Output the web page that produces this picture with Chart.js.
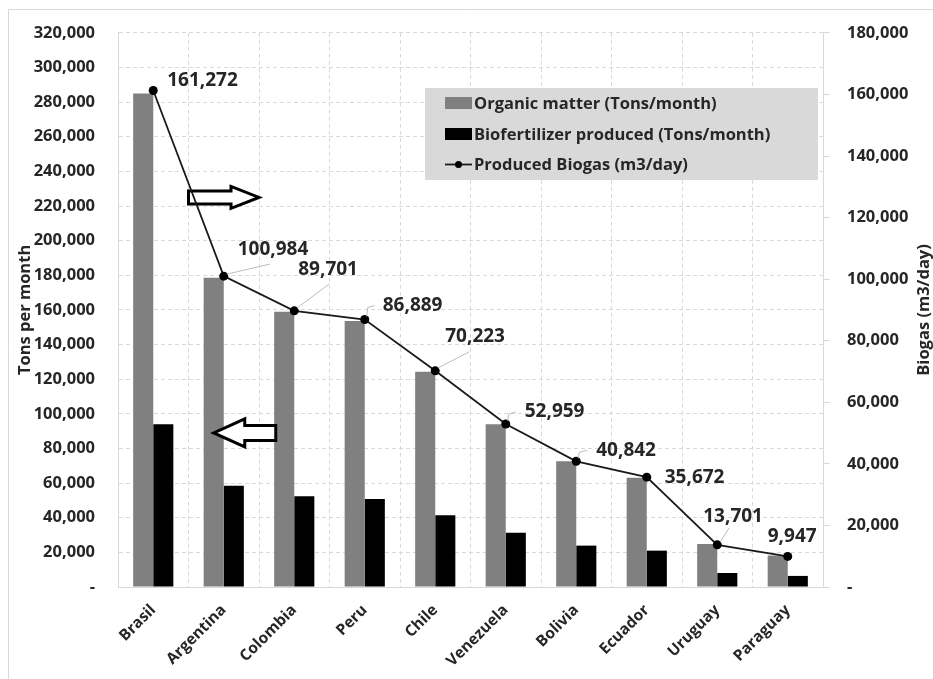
<!DOCTYPE html>
<html>
<head>
<meta charset="utf-8">
<script src="https://cdn.jsdelivr.net/npm/chart.js@4.4.1/dist/chart.umd.min.js"></script>
<style>
html,body{margin:0;padding:0;background:#fff;}
canvas{display:block;}
</style>
</head>
<body>
<canvas id="c" width="933" height="679"></canvas>
<script>
// ---- data ----
const categories = ['Brasil','Argentina','Colombia','Peru','Chile','Venezuela','Bolivia','Ecuador','Uruguay','Paraguay'];
const organicMatter = [285000, 178600, 159000, 153600, 124300, 94000, 72600, 63100, 24800, 18200];
const biofertilizer = [94000, 58500, 52400, 50800, 41500, 31400, 23900, 21000, 8100, 6400];
const biogas = [161272, 100984, 89701, 86889, 70223, 52959, 40842, 35672, 13701, 9947];
const seriesNames = ['Organic matter (Tons/month)', 'Biofertilizer produced (Tons/month)', 'Produced Biogas (m3/day)'];
const leftAxisTitle = 'Tons per month';
const rightAxisTitle = 'Biogas (m3/day)';
const leftMax = 320000, rightMax = 180000, tickStep = 20000;

// ---- styles ----
const FONT = "'Open Sans', 'DejaVu Sans', sans-serif";
const TEXT = '#262626';
const GRID = '#d9d9d9';
const fmt = v => v === 0 ? '-' : Number(v).toLocaleString('en-US');

// label placement relative to each biogas point (layout only)
const labelLayout = [
  {dx:14, dy:-10},
  {dx:14, dy:-27, leader:[[3,-2],[46,-12]]},
  {dx:4,  dy:-41, leader:[[3,-3],[35,-27]]},
  {dx:18, dy:-14, leader:[[2,-3],[3,-12],[10,-14]]},
  {dx:10, dy:-34, leader:[[3,-3],[34,-19]]},
  {dx:19, dy:-12, leader:[[2,-3],[3,-10],[10,-12]]},
  {dx:20, dy:-11, leader:[[2,-3],[3,-9],[11,-11]]},
  {dx:18, dy:0},
  {dx:-14, dy:-28, leader:[[3,-3],[12,-17]]},
  {dx:-20, dy:-20}
];

function hollowArrow(ctx, xTail, xTip, y, headLen, bodyHalf, headHalf) {
  const dir = Math.sign(xTip - xTail);
  const xBase = xTip - dir * headLen;
  ctx.beginPath();
  ctx.moveTo(xTail, y - bodyHalf);
  ctx.lineTo(xBase, y - bodyHalf);
  ctx.lineTo(xBase, y - headHalf);
  ctx.lineTo(xTip, y);
  ctx.lineTo(xBase, y + headHalf);
  ctx.lineTo(xBase, y + bodyHalf);
  ctx.lineTo(xTail, y + bodyHalf);
  ctx.closePath();
  ctx.fillStyle = '#fff';
  ctx.fill();
  ctx.lineWidth = 3;
  ctx.lineJoin = 'miter';
  ctx.strokeStyle = '#000';
  ctx.stroke();
}

const decorPlugin = {
  id: 'decor',
  beforeDraw(chart) {
    const ctx = chart.ctx;
    ctx.save();
    ctx.strokeStyle = GRID;
    ctx.lineWidth = 1;
    ctx.beginPath();
    ctx.moveTo(8.5, chart.height);
    ctx.lineTo(8.5, 9.5);
    ctx.lineTo(chart.width, 9.5);
    ctx.stroke();
    ctx.restore();
  },
  beforeDatasetDraw(chart, args) {
    if (args.index !== 2) return;
    const ctx = chart.ctx;
    const x = chart.scales.x, y = chart.scales.y;
    const cw = x.getPixelForValue(1) - x.getPixelForValue(0);
    const cx = x.getPixelForValue(1);
    ctx.save();
    hollowArrow(ctx, cx - cw / 2, cx + cw / 2, y.getPixelForValue(225000), 28, 6.5, 11);
    hollowArrow(ctx, cx + 52, cx - 10, y.getPixelForValue(89000), 31, 7.5, 14);
    ctx.restore();
  },
  afterDatasetsDraw(chart) {
    const ctx = chart.ctx;
    const meta = chart.getDatasetMeta(2);
    ctx.save();
    // data labels
    meta.data.forEach((pt, i) => {
      const L = labelLayout[i];
      if (L.leader) {
        ctx.strokeStyle = '#bdbdbd';
        ctx.lineWidth = 1;
        ctx.beginPath();
        L.leader.forEach((p, k) => {
          if (k === 0) ctx.moveTo(pt.x + p[0], pt.y + p[1]);
          else ctx.lineTo(pt.x + p[0], pt.y + p[1]);
        });
        ctx.stroke();
      }
      ctx.fillStyle = TEXT;
      ctx.font = "bold 19px " + FONT;
      ctx.textAlign = 'left';
      ctx.textBaseline = 'middle';
      ctx.fillText(fmt(biogas[i]), pt.x + L.dx, pt.y + L.dy);
    });
    // legend box
    const lx = 425, ly = 88, lw = 393, lh = 92;
    ctx.fillStyle = '#d9d9d9';
    ctx.fillRect(lx, ly, lw, lh);
    const rows = [103, 134, 164.5];
    ctx.font = "bold 16.5px " + FONT;
    ctx.textBaseline = 'middle';
    ctx.textAlign = 'left';
    ctx.fillStyle = chart.data.datasets[0].backgroundColor;
    ctx.fillRect(445, rows[0] - 6, 27, 12);
    ctx.fillStyle = chart.data.datasets[1].backgroundColor;
    ctx.fillRect(445, rows[1] - 6, 27, 12);
    ctx.strokeStyle = '#1a1a1a';
    ctx.lineWidth = 1.8;
    ctx.beginPath();
    ctx.moveTo(445, rows[2]);
    ctx.lineTo(472, rows[2]);
    ctx.stroke();
    ctx.fillStyle = '#000';
    ctx.beginPath();
    ctx.arc(458.5, rows[2], 3.5, 0, Math.PI * 2);
    ctx.fill();
    ctx.fillStyle = TEXT;
    chart.data.datasets.forEach((ds, i) => ctx.fillText(ds.label, 474, rows[i] + 1));
    // right axis title
    const a = chart.chartArea;
    ctx.translate(924, (a.top + a.bottom) / 2);
    ctx.rotate(-Math.PI / 2);
    ctx.textAlign = 'center';
    ctx.font = "bold 16.5px " + FONT;
    ctx.fillText(rightAxisTitle, 0, 0);
    ctx.restore();
  }
};

new Chart(document.getElementById('c'), {
  data: {
    labels: categories,
    datasets: [
      {type:'bar', label: seriesNames[0], data: organicMatter, yAxisID:'y', backgroundColor:'#808080',
       barPercentage:1, categoryPercentage:0.57, order:1},
      {type:'bar', label: seriesNames[1], data: biofertilizer, yAxisID:'y', backgroundColor:'#000000',
       barPercentage:1, categoryPercentage:0.57, order:1},
      {type:'line', label: seriesNames[2], data: biogas, yAxisID:'y1', borderColor:'#1a1a1a', backgroundColor:'#000',
       borderWidth:1.8, pointRadius:4.5, pointBackgroundColor:'#000', pointBorderWidth:0, tension:0, order:0}
    ]
  },
  options: {
    responsive:false,
    animation:false,
    devicePixelRatio:1,
    layout:{padding:{top:24, left:0, right:0, bottom:0}},
    plugins:{legend:{display:false}, tooltip:{enabled:false}},
    scales:{
      x:{
        grid:{offset:true, color:GRID, lineWidth:1, drawTicks:false},
        border:{display:true, color:GRID, dash:[4,3]},
        ticks:{color:TEXT, font:{family:FONT, size:15.5, weight:'bold'}, minRotation:45, maxRotation:45, padding:14},
        afterFit(s){ s.height = 92; }
      },
      y:{
        position:'left', min:0, max:leftMax,
        ticks:{stepSize:tickStep, callback:fmt, color:TEXT, font:{family:FONT, size:16.5, weight:'bold'}, padding:23},
        grid:{color:GRID, lineWidth:1, drawTicks:false},
        border:{display:true, color:GRID, dash:[4,3]},
        title:{display:true, text:leftAxisTitle, color:TEXT, font:{family:FONT, size:16.5, weight:'bold'}, padding:{top:15, bottom:0}},
        afterFit(s){ s.width = 118; }
      },
      y1:{
        position:'right', min:0, max:rightMax,
        ticks:{stepSize:tickStep, callback:fmt, color:TEXT, font:{family:FONT, size:16.5, weight:'bold'}, padding:17},
        grid:{drawOnChartArea:false, color:GRID, tickLength:7},
        border:{display:true, color:GRID},
        afterFit(s){ s.width = 110; }
      }
    }
  },
  plugins:[decorPlugin]
});
</script>
</body>
</html>
